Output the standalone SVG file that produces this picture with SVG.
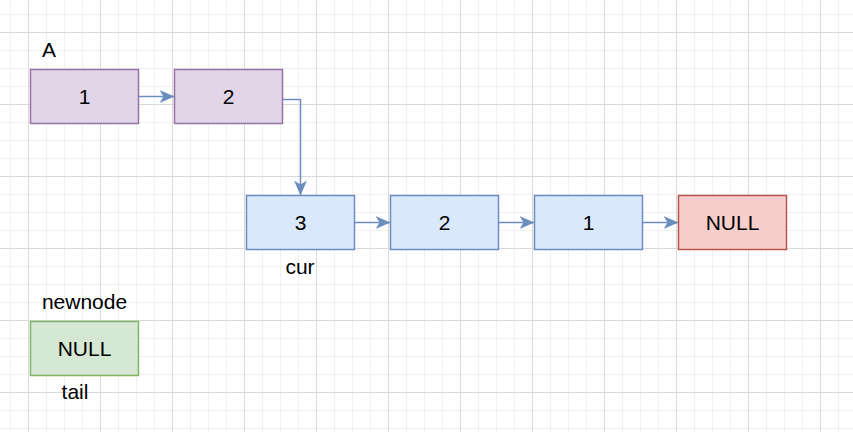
<svg xmlns="http://www.w3.org/2000/svg" width="853" height="432" viewBox="0 0 853 432">
<style>
.minor{stroke:#f0f0f0;stroke-width:1;fill:none}
.major{stroke:#d9d9d9;stroke-width:1;fill:none}
.t{font-family:"Liberation Sans",Arial,sans-serif;font-size:21px;fill:#000;text-anchor:middle}
.purple{fill:#e1d5e7;stroke:#9673a6;stroke-width:1.5}
.blue{fill:#dae8fc;stroke:#6c8ebf;stroke-width:1.5}
.red{fill:#f8cecc;stroke:#b85450;stroke-width:1.5}
.green{fill:#d5e8d4;stroke:#82b366;stroke-width:1.5}
.edge{stroke:#6c8ebf;stroke-width:1.5;fill:none;marker-end:url(#arr)}
</style>
<defs>
<marker id="arr" markerUnits="userSpaceOnUse" markerWidth="16" markerHeight="14" refX="15" refY="6.5" orient="auto">
<path d="M0,0 L15,6.5 L0,13 L4,6.5 Z" fill="#6c8ebf"/>
</marker>
</defs>
<rect width="853" height="432" fill="#fff"/>
<g id="grid">
<path class="minor" d="M10.5 0V432M46.5 0V432M64.5 0V432M82.5 0V432M118.5 0V432M136.5 0V432M154.5 0V432M190.5 0V432M208.5 0V432M226.5 0V432M262.5 0V432M280.5 0V432M298.5 0V432M334.5 0V432M352.5 0V432M370.5 0V432M406.5 0V432M424.5 0V432M442.5 0V432M478.5 0V432M496.5 0V432M514.5 0V432M550.5 0V432M568.5 0V432M586.5 0V432M622.5 0V432M640.5 0V432M658.5 0V432M694.5 0V432M712.5 0V432M730.5 0V432M766.5 0V432M784.5 0V432M802.5 0V432M838.5 0V432M0 14.5H853M0 50.5H853M0 68.5H853M0 86.5H853M0 122.5H853M0 140.5H853M0 158.5H853M0 194.5H853M0 212.5H853M0 230.5H853M0 266.5H853M0 284.5H853M0 302.5H853M0 338.5H853M0 356.5H853M0 374.5H853M0 410.5H853M0 428.5H853"/>
<path class="major" d="M28.5 0V432M100.5 0V432M172.5 0V432M244.5 0V432M316.5 0V432M388.5 0V432M460.5 0V432M532.5 0V432M604.5 0V432M676.5 0V432M748.5 0V432M820.5 0V432M0 32.5H853M0 104.5H853M0 176.5H853M0 248.5H853M0 320.5H853M0 392.5H853"/>
</g>
<g id="connectors">
<path class="edge" d="M138.5 96.5H174.5"/>
<path class="edge" d="M282.5 99.5H300.5V195.5"/>
<path class="edge" d="M354.5 222.5H390.5"/>
<path class="edge" d="M498.5 222.5H534.5"/>
<path class="edge" d="M642.5 222.5H678.5"/>
</g>
<g id="labelA"><text class="t" x="49" y="57">A</text></g>
<g id="a1"><rect class="purple" x="30.5" y="69.5" width="108" height="54"/><text class="t" x="84.5" y="104">1</text></g>
<g id="a2"><rect class="purple" x="174.5" y="69.5" width="108" height="54"/><text class="t" x="228.5" y="104">2</text></g>
<g id="b3"><rect class="blue" x="246.5" y="195.5" width="108" height="54"/><text class="t" x="300.5" y="230">3</text></g>
<g id="b2"><rect class="blue" x="390.5" y="195.5" width="108" height="54"/><text class="t" x="444.5" y="230">2</text></g>
<g id="b1"><rect class="blue" x="534.5" y="195.5" width="108" height="54"/><text class="t" x="588.5" y="230">1</text></g>
<g id="null1"><rect class="red" x="678.5" y="195.5" width="108" height="54"/><text class="t" x="732.5" y="230">NULL</text></g>
<g id="labelCur"><text class="t" x="300" y="274">cur</text></g>
<g id="labelNewnode"><text class="t" x="84.5" y="309">newnode</text></g>
<g id="newnode"><rect class="green" x="30.5" y="321.5" width="108" height="54"/><text class="t" x="84.5" y="356">NULL</text></g>
<g id="labelTail"><text class="t" x="75" y="399">tail</text></g>
</svg>
